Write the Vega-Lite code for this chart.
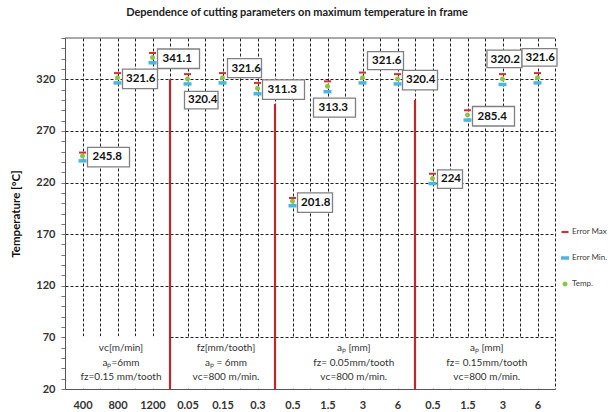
{
  "$schema": "https://vega.github.io/schema/vega-lite/v6.json",
  "width": 490,
  "height": 351,
  "autosize": {"type": "none"},
  "padding": {"left": 65, "top": 38, "right": 53, "bottom": 23},
  "title": {"text": "Dependence of cutting parameters on maximum temperature in frame", "fontSize": 11, "font": "Lato", "fontWeight": "bold", "color": "#222", "anchor": "middle", "dx": -13, "offset": 14},
  "config": {"view": {"stroke": null}, "font": "Lato"},
  "datasets": {
    "pts": [
      {"i": 0, "label": "400", "temp": 245.8, "emax": 249, "emin": 241},
      {"i": 1, "label": "800", "temp": 321.6, "emax": 326, "emin": 316.5},
      {"i": 2, "label": "1200", "temp": 341.1, "emax": 345.5, "emin": 336},
      {"i": 3, "label": "0.05", "temp": 320.4, "emax": 325, "emin": 315.5},
      {"i": 4, "label": "0.15", "temp": 321.6, "emax": 326, "emin": 316.5},
      {"i": 5, "label": "0.3", "temp": 311.3, "emax": 316.5, "emin": 306},
      {"i": 6, "label": "0.5", "temp": 201.8, "emax": 205, "emin": 197.5},
      {"i": 7, "label": "1.5", "temp": 313.3, "emax": 318, "emin": 308},
      {"i": 8, "label": "3", "temp": 321.6, "emax": 326.5, "emin": 316.5},
      {"i": 9, "label": "6", "temp": 320.4, "emax": 325, "emin": 315.5},
      {"i": 10, "label": "0.5", "temp": 224, "emax": 228.5, "emin": 219},
      {"i": 11, "label": "1.5", "temp": 285.4, "emax": 290, "emin": 280.5},
      {"i": 12, "label": "3", "temp": 320.2, "emax": 325, "emin": 315},
      {"i": 13, "label": "6", "temp": 321.6, "emax": 326, "emin": 316.5}
    ],
    "splits": [
      {"xb": 2.5, "top": 320},
      {"xb": 5.5, "top": 296},
      {"xb": 9.5, "top": 300}
    ],
    "notes": [
      {"xc": 1.1, "note": "vᴄ[m/min]\naₚ=6mm\nfᴢ=0.15 mm/tooth"},
      {"xc": 4.1, "note": "fᴢ[mm/tooth]\naₚ = 6mm\nvᴄ=800 m/min."},
      {"xc": 7.75, "note": "aₚ [mm]\nfᴢ= 0.05mm/tooth\nvᴄ=800 m/min."},
      {"xc": 11.55, "note": "aₚ [mm]\nfᴢ= 0.15mm/tooth\nvᴄ=800 m/min."}
    ]
  },
  "layer": [
    {
      "data": {"name": "pts"},
      "transform": [{"fold": ["emax", "emin", "temp"], "as": ["series", "val"]}],
      "mark": {"type": "point", "filled": true, "size": 100, "opacity": 1},
      "encoding": {
        "x": {"field": "i", "type": "quantitative", "title": null,
          "scale": {"domain": [-0.5, 13.5], "nice": false, "zero": false},
          "axis": {"values": [-0.5, 0, 0.5, 1, 1.5, 2, 2.5, 3, 3.5, 4, 4.5, 5, 5.5, 6, 6.5, 7, 7.5, 8, 8.5, 9, 9.5, 10, 10.5, 11, 11.5, 12, 12.5, 13, 13.5],
            "tickCount": 1000,
            "labelExpr": "datum.value % 1 === 0 ? data('pts')[datum.value].label : ''",
            "grid": true, "gridDash": [3, 2], "gridColor": "#222", "gridOpacity": 1,
            "ticks": false, "domain": true, "domainColor": "#555",
            "labelFont": "Lato", "labelFontWeight": "bold", "labelFontSize": 11, "labelColor": "#333",
            "labelPadding": 10, "labelFlush": false, "labelOverlap": false, "labelBound": false}},
        "y": {"field": "val", "type": "quantitative", "title": "Temperature [°C]",
          "scale": {"domain": [20, 360], "nice": false, "zero": false},
          "axis": {"values": [20, 30, 40, 50, 60, 70, 80, 90, 100, 110, 120, 130, 140, 150, 160, 170, 180, 190, 200, 210, 220, 230, 240, 250, 260, 270, 280, 290, 300, 310, 320, 330, 340, 350, 360],
            "tickCount": 1000, "format": "d",
            "labelExpr": "(datum.value - 20) % 50 === 0 ? datum.label : ''",
            "grid": true,
            "gridOpacity": {"condition": {"test": "datum.value > 20 && datum.value < 360 && (datum.value - 20) % 50 === 0", "value": 1}, "value": 0},
            "gridDash": [3, 2], "gridColor": "#222",
            "tickSize": 4, "tickColor": "#777", "domainColor": "#555",
            "labelFont": "Lato", "labelFontWeight": "bold", "labelFontSize": 11, "labelColor": "#333", "labelPadding": 6, "labelOverlap": false,
            "titleFont": "Lato", "titleFontSize": 11.5, "titleFontWeight": "bold", "titleColor": "#111", "titlePadding": 14}},
        "color": {"field": "series", "type": "nominal",
          "scale": {"domain": ["emax", "emin", "temp"], "range": ["#E0282E", "#45B7E8", "#8CC540"]},
          "legend": {"title": null, "orient": "none", "legendX": 494, "legendY": 188,
            "labelExpr": "{'emax': 'Error Max', 'emin': 'Error Min.', 'temp': 'Temp.'}[datum.value]",
            "labelFontSize": 8, "labelColor": "#404040", "labelFont": "Lato", "rowPadding": 16, "symbolSize": 100, "padding": 0, "labelOffset": 1}},
        "shape": {"field": "series", "type": "nominal",
          "scale": {"domain": ["emax", "emin", "temp"], "range": ["M-0.7,-0.2H0.7V0.2H-0.7Z", "M-0.8,-0.35H0.8V0.35H-0.8Z", "M0.5,0A0.5,0.5,0,1,1,-0.5,0A0.5,0.5,0,1,1,0.5,0Z"]},
          "legend": {"title": null, "orient": "none", "legendX": 494, "legendY": 188,
            "labelExpr": "{'emax': 'Error Max', 'emin': 'Error Min.', 'temp': 'Temp.'}[datum.value]",
            "labelFontSize": 8, "labelColor": "#404040", "labelFont": "Lato", "rowPadding": 16, "symbolSize": 100, "padding": 0, "labelOffset": 1}}
      }
    },
    {
      "data": {"values": [{}]},
      "mark": {"type": "rect", "fill": "white"},
      "encoding": {
        "x": {"datum": -0.47, "type": "quantitative"}, "x2": {"datum": 13.47},
        "y": {"datum": 20.6, "type": "quantitative"}, "y2": {"datum": 69.3}
      }
    },
    {
      "data": {"values": [{}]},
      "mark": {"type": "rect", "fill": "white"},
      "encoding": {
        "x": {"datum": -0.47, "type": "quantitative"}, "x2": {"datum": 2.47},
        "y": {"datum": 69, "type": "quantitative"}, "y2": {"datum": 71}
      }
    },
    {
      "data": {"values": [{}]},
      "mark": {"type": "rule", "color": "#555", "strokeWidth": 1},
      "encoding": {"y": {"datum": 360, "type": "quantitative"}}
    },
    {
      "data": {"name": "splits"},
      "mark": {"type": "rule", "color": "#C0272D", "strokeWidth": 2.2},
      "encoding": {
        "x": {"field": "xb", "type": "quantitative", "title": null},
        "y": {"field": "top", "type": "quantitative", "title": "Temperature [°C]"},
        "y2": {"datum": 20}
      }
    },
    {
      "data": {"name": "notes"},
      "mark": {"type": "text", "align": "center", "baseline": "top", "lineBreak": "\n", "lineHeight": 14.5, "fontSize": 10, "font": "Lato", "color": "#333"},
      "encoding": {
        "x": {"field": "xc", "type": "quantitative", "title": null},
        "y": {"datum": 64.5, "type": "quantitative"},
        "text": {"field": "note", "type": "nominal"}
      }
    },
    {
      "data": {"name": "pts"},
      "transform": [{"filter": {"field": "i", "oneOf": [0, 2, 5, 11]}}],
      "layer": [
        {"mark": {"type": "point", "shape": "M5,-8.5H47V11H5Z", "size": 4, "filled": true, "fill": "white", "stroke": "#808080", "strokeWidth": 1.3, "opacity": 1}},
        {"mark": {"type": "text", "align": "left", "baseline": "middle", "dx": 10, "dy": 1.5, "font": "Lato", "fontWeight": "bold", "fontSize": 11.5, "color": "#111"}, "encoding": {"text": {"field": "temp", "type": "nominal"}}}
      ],
      "encoding": {"x": {"field": "i", "type": "quantitative", "title": null}, "y": {"field": "temp", "type": "quantitative", "title": "Temperature [°C]"}}
    },
    {
      "data": {"name": "pts"},
      "transform": [{"filter": {"field": "i", "oneOf": [1, 6, 9]}}],
      "layer": [
        {"mark": {"type": "point", "shape": "M5,-8.5H40V11H5Z", "size": 4, "filled": true, "fill": "white", "stroke": "#808080", "strokeWidth": 1.3, "opacity": 1}},
        {"mark": {"type": "text", "align": "left", "baseline": "middle", "dx": 8.5, "dy": 1.5, "font": "Lato", "fontWeight": "bold", "fontSize": 11.5, "color": "#111"}, "encoding": {"text": {"field": "temp", "type": "nominal"}}}
      ],
      "encoding": {"x": {"field": "i", "type": "quantitative", "title": null}, "y": {"field": "temp", "type": "quantitative", "title": "Temperature [°C]"}}
    },
    {
      "data": {"name": "pts"},
      "transform": [{"filter": {"field": "i", "oneOf": [10]}}],
      "layer": [
        {"mark": {"type": "point", "shape": "M5,-8.5H30V10H5Z", "size": 4, "filled": true, "fill": "white", "stroke": "#808080", "strokeWidth": 1.3, "opacity": 1}},
        {"mark": {"type": "text", "align": "left", "baseline": "middle", "dx": 8.5, "dy": 1, "font": "Lato", "fontWeight": "bold", "fontSize": 11.5, "color": "#111"}, "encoding": {"text": {"field": "temp", "type": "nominal"}}}
      ],
      "encoding": {"x": {"field": "i", "type": "quantitative", "title": null}, "y": {"field": "temp", "type": "quantitative", "title": "Temperature [°C]"}}
    },
    {
      "data": {"name": "pts"},
      "transform": [{"filter": {"field": "i", "oneOf": [3]}}],
      "layer": [
        {"mark": {"type": "point", "shape": "M-3,12.5H30.5V30H-3Z", "size": 4, "filled": true, "fill": "white", "stroke": "#808080", "strokeWidth": 1.3, "opacity": 1}},
        {"mark": {"type": "text", "align": "left", "baseline": "middle", "dx": 0.5, "dy": 21.5, "font": "Lato", "fontWeight": "bold", "fontSize": 11.5, "color": "#111"}, "encoding": {"text": {"field": "temp", "type": "nominal"}}}
      ],
      "encoding": {"x": {"field": "i", "type": "quantitative", "title": null}, "y": {"field": "temp", "type": "quantitative", "title": "Temperature [°C]"}}
    },
    {
      "data": {"name": "pts"},
      "transform": [{"filter": {"field": "i", "oneOf": [7]}}],
      "layer": [
        {"mark": {"type": "point", "shape": "M-14,12H28V31H-14Z", "size": 4, "filled": true, "fill": "white", "stroke": "#808080", "strokeWidth": 1.3, "opacity": 1}},
        {"mark": {"type": "text", "align": "left", "baseline": "middle", "dx": -9, "dy": 21.5, "font": "Lato", "fontWeight": "bold", "fontSize": 11.5, "color": "#111"}, "encoding": {"text": {"field": "temp", "type": "nominal"}}}
      ],
      "encoding": {"x": {"field": "i", "type": "quantitative", "title": null}, "y": {"field": "temp", "type": "quantitative", "title": "Temperature [°C]"}}
    },
    {
      "data": {"name": "pts"},
      "transform": [{"filter": {"field": "i", "oneOf": [4]}}],
      "layer": [
        {"mark": {"type": "point", "shape": "M5,-19H39V0H5Z", "size": 4, "filled": true, "fill": "white", "stroke": "#808080", "strokeWidth": 1.3, "opacity": 1}},
        {"mark": {"type": "text", "align": "left", "baseline": "middle", "dx": 9, "dy": -9, "font": "Lato", "fontWeight": "bold", "fontSize": 11.5, "color": "#111"}, "encoding": {"text": {"field": "temp", "type": "nominal"}}}
      ],
      "encoding": {"x": {"field": "i", "type": "quantitative", "title": null}, "y": {"field": "temp", "type": "quantitative", "title": "Temperature [°C]"}}
    },
    {
      "data": {"name": "pts"},
      "transform": [{"filter": {"field": "i", "oneOf": [8]}}],
      "layer": [
        {"mark": {"type": "point", "shape": "M5,-26H41V-8H5Z", "size": 4, "filled": true, "fill": "white", "stroke": "#808080", "strokeWidth": 1.3, "opacity": 1}},
        {"mark": {"type": "text", "align": "left", "baseline": "middle", "dx": 9.5, "dy": -16.5, "font": "Lato", "fontWeight": "bold", "fontSize": 11.5, "color": "#111"}, "encoding": {"text": {"field": "temp", "type": "nominal"}}}
      ],
      "encoding": {"x": {"field": "i", "type": "quantitative", "title": null}, "y": {"field": "temp", "type": "quantitative", "title": "Temperature [°C]"}}
    },
    {
      "data": {"name": "pts"},
      "transform": [{"filter": {"field": "i", "oneOf": [12, 13]}}],
      "layer": [
        {"mark": {"type": "point", "shape": "M-15.5,-29H19.5V-11.5H-15.5Z", "size": 4, "filled": true, "fill": "white", "stroke": "#808080", "strokeWidth": 1.3, "opacity": 1}},
        {"mark": {"type": "text", "align": "left", "baseline": "middle", "dx": -12, "dy": -19.5, "font": "Lato", "fontWeight": "bold", "fontSize": 11.5, "color": "#111"}, "encoding": {"text": {"field": "temp", "type": "nominal"}}}
      ],
      "encoding": {"x": {"field": "i", "type": "quantitative", "title": null}, "y": {"field": "temp", "type": "quantitative", "title": "Temperature [°C]"}}
    }
  ]
}
